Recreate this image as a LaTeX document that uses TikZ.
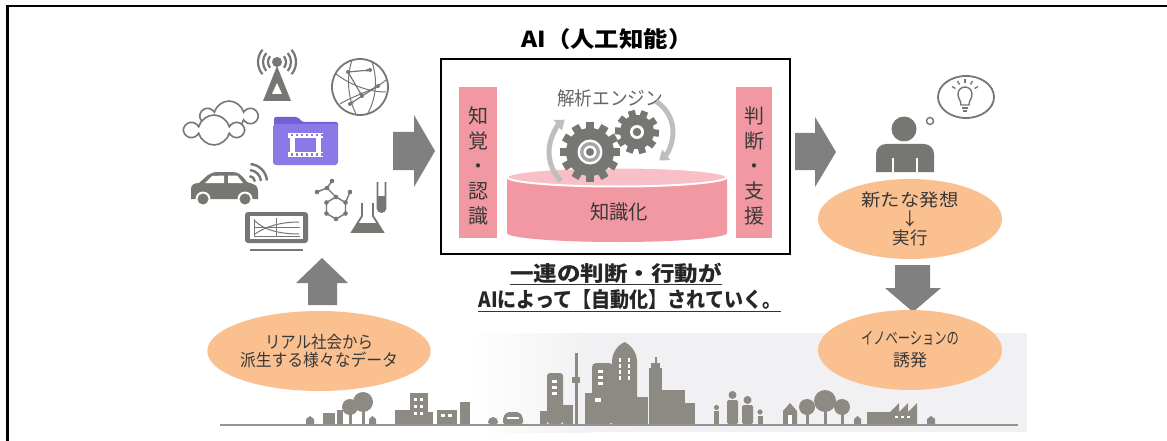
\documentclass[tikz,border=0pt]{standalone}
\usepackage{fontspec}
\usepackage{graphicx}
\setmainfont{Noto Sans CJK JP}
\usetikzlibrary{shapes.geometric,shapes.symbols,arrows.meta,calc}

\definecolor{arrowgray}{RGB}{128,128,128}
\definecolor{icongray}{RGB}{118,118,114}
\definecolor{lightarc}{RGB}{190,190,190}
\definecolor{pinkbar}{RGB}{242,152,162}
\definecolor{pinktop}{RGB}{248,192,198}
\definecolor{peach}{RGB}{250,192,144}
\definecolor{folderpurple}{RGB}{138,122,232}
\definecolor{folderdark}{RGB}{112,98,212}
\definecolor{citygray}{RGB}{140,138,130}
\definecolor{bandgray}{RGB}{241,241,243}
\definecolor{labelgray}{RGB}{56,56,56}

% set a text at its natural height, squeezed or stretched to a given width
\newsavebox\fitbox
\newcommand\fitw[2]{\sbox\fitbox{#2}\pgfmathsetmacro\fitratio{#1/\the\wd\fitbox}\scalebox{\fitratio}[1]{\usebox\fitbox}}

\tikzset{
  blockarrow/.style={fill=arrowgray},
  icon/.style={fill=icongray},
  iconline/.style={draw=icongray, line width=1.8},
  peachnode/.style={ellipse, fill=peach, inner sep=0pt, align=center, text=labelgray},
  barbox/.style={fill=pinkbar},
  bartext/.style={align=center, text=labelgray, font=\fontsize{20}{25}\selectfont},
  spinarrow/.style={draw=lightarc, line width=5, -{Triangle[length=9pt,width=13pt]}},
  cloudicon/.style={cloud, cloud puffs=6, aspect=1.9, draw=icongray, line width=1.6, fill=white},
  city/.style={fill=citygray},
  win/.style={fill=white}
}

\begin{document}
\begin{tikzpicture}[x=1pt,y=-1pt]
\useasboundingbox (0,0) rectangle (1167,441);
\fill[white] (0,0) rectangle (1167,441);

% frame
\draw[line width=2.6] (7.2,441) -- (7.2,6.2) -- (1167,6.2);

% pale band behind the skyline
\shade[left color=white, right color=bandgray] (470,333) rectangle (590,432);
\fill[bandgray] (590,333) rectangle (1027,432);

% ---------------- data sources (left) ----------------
% antenna
\fill[icon] (277,66) -- (291,101) -- (263,101) -- cycle;
\fill[white] (277,83) -- (282,94) -- (272,94) -- cycle;
\fill[icon] (277,62) circle (5);
\foreach \r in {9,14,19}{
  \draw[icongray, line width=2.2] (277,62) ++(-40:\r) arc[start angle=-40,end angle=40,radius=\r];
  \draw[icongray, line width=2.2] (277,62) ++(140:\r) arc[start angle=140,end angle=220,radius=\r];
}
% globe with network
\draw[iconline] (360,87) circle (28);
\draw[icongray, line width=1] (336,74) .. controls (352,86) and (370,92) .. (386,92);
\draw[icongray, line width=1] (340,104) .. controls (356,94) and (372,92) .. (386,80);
\draw[icongray, line width=1] (352,60) .. controls (346,78) and (348,98) .. (356,114);
\draw[icongray, line width=1] (372,62) .. controls (378,80) and (376,98) .. (368,113);
\draw[icongray, line width=1.2, -{Stealth[length=4pt]}] (348,72) -- (362,96);
\draw[icongray, line width=1.2, -{Stealth[length=4pt]}] (362,96) -- (378,86);
\draw[icongray, line width=1.2, -{Stealth[length=4pt]}] (362,96) -- (350,104);
\draw[icongray, line width=1.2, -{Stealth[length=4pt]}] (348,72) -- (370,70);
\foreach \p in {(348,72),(362,96),(370,70),(378,86),(350,104)} \fill[icongray] \p circle (2);

% clouds
\node[cloudicon, minimum width=54pt, minimum height=30pt] (cloudback) at (229,116) {};
\node[cloudicon, minimum width=56pt, minimum height=30pt] (cloudfront) at (214,130) {};

% video folder
\fill[folderdark, rounded corners=2] (274,117) -- (298,117) -- (302,122) -- (338,122) -- (338,128) -- (274,128) -- cycle;
\fill[folderpurple, rounded corners=3] (273,124) rectangle (338,165);
\fill[white] (288,133) rectangle (323,138);
\fill[white] (288,152) rectangle (323,157);
\fill[white] (290,138) rectangle (295,152);
\fill[white] (316,138) rectangle (321,152);
\foreach \x in {291,296,...,321}{
  \fill[folderpurple] (\x,134.5) rectangle (\x+2,136.5);
  \fill[folderpurple] (\x,153.5) rectangle (\x+2,155.5);
}

% car
\fill[icon] (191,199) -- (191,189) .. controls (191,185) and (194,183) .. (199,183)
  -- (208,175) .. controls (211,172.5) and (214,172) .. (220,172) -- (232,172)
  .. controls (238,172) and (241,174) .. (247,182) -- (253,184)
  .. controls (257,185.5) and (258,188) .. (258,192) -- (258,199) -- cycle;
\fill[white] (212,176) -- (205,183) -- (224,183) -- (224,175.5) -- cycle;
\fill[white] (228,175.5) -- (228,183) -- (243,183) -- (237,175.5) -- cycle;
\fill[white] (203,199) circle (7.5);
\fill[white] (245,199) circle (7.5);
\fill[icon] (203,199) circle (5.5);
\fill[icon] (245,199) circle (5.5);
% signal waves
\foreach \r in {6,12,18}
  \draw[icongray, line width=2.4] (249,182) ++(-85:\r) arc[start angle=-85,end angle=-5,radius=\r];

% monitor with chart
\fill[icon, rounded corners=3] (245,212) rectangle (308,243);
\fill[white] (250,216) rectangle (303,239);
\draw[icongray, line width=0.8] (254,219) -- (254,236) -- (300,236);
\draw[icongray, line width=0.8] (276,218) -- (276,236);
\draw[icongray, line width=0.8] (254,227) -- (300,227);
\draw[icongray, line width=1] (255,221) .. controls (264,230) and (280,234) .. (299,234);
\draw[icongray, line width=1] (255,234) .. controls (266,226) and (282,222) .. (299,222);
\draw[icongray, line width=2] (250,250) -- (303,250);

% molecule
\foreach \a in {0,60,...,300} \coordinate (h\a) at ($(336,208)+(\a+30:11)$);
\draw[iconline, line width=1.4] (h0) -- (h60) -- (h120) -- (h180) -- (h240) -- (h300) -- cycle;
\draw[iconline, line width=1.4] (h240) -- (327,188) -- (317,192);
\draw[iconline, line width=1.4] (327,188) -- (332,181);
\draw[iconline, line width=1.4] (h300) -- (350,192);
\foreach \p in {h0,h60,h120,h180,h240,h300} \fill[icongray] (\p) circle (2.3);
\foreach \p in {(317,192),(332,181),(350,192),(327,188)} \fill[icongray] \p circle (2.3);

% flask and test tube
\draw[iconline] (362,203) -- (362,216) -- (352,232) -- (383,232) -- (373,216) -- (373,203);
\fill[icon] (357.5,223) -- (377.5,223) -- (383,232) -- (352,232) -- cycle;
\draw[iconline] (377.5,182) -- (377.5,208) arc[start angle=180,end angle=0,radius=4] -- (385.5,182);
\fill[icon] (377.5,196) -- (377.5,208) arc[start angle=180,end angle=0,radius=4] -- (385.5,196) -- cycle;

% ---------------- block arrows ----------------
\fill[blockarrow] (393,132) -- (414,132) -- (414,115) -- (435,151) -- (414,187) -- (414,170) -- (393,170) -- cycle;
\fill[blockarrow] (795,133) -- (815,133) -- (815,117) -- (836,152) -- (815,187) -- (815,170) -- (795,170) -- cycle;
\fill[blockarrow] (308,305) -- (308,283) -- (296,283) -- (322,258) -- (348,283) -- (337,283) -- (337,305) -- cycle;
\fill[blockarrow] (895,265) -- (930,265) -- (930,288) -- (941,288) -- (913,312) -- (885,288) -- (895,288) -- cycle;

% ---------------- AI box ----------------
\node[font=\bfseries\fontsize{22}{26}\selectfont] (title) at (607,39) {\fitw{171}{AI（人工知能）}};
\draw[line width=2.8] (441,59) rectangle (790,254);

\fill[barbox] (459,87) rectangle (497,238);
\fill[barbox] (736,87) rectangle (772,238);
\node[bartext] (perceive) at (478,166) {知\\覚\\・\\認\\識};
\node[bartext] (judge) at (754,166) {判\\断\\・\\支\\援};

% knowledge cylinder
\fill[pinkbar] (507,177) -- (507,233) arc[start angle=180,end angle=0,x radius=110,y radius=9] -- (727,177) -- cycle;
\filldraw[fill=pinktop, draw=white, line width=2] (617,177) ellipse[x radius=110,y radius=9.5];
\node[text=labelgray, font=\fontsize{20}{22}\selectfont] (know) at (619,212) {\fitw{58}{知識化}};

% analysis engine
\node[text=black!60, font=\fontsize{19}{22}\selectfont] (engine) at (610,98) {\fitw{106}{解析エンジン}};
\draw[spinarrow] (590,152) ++(135:41) arc[start angle=135,end angle=232,radius=41];
\draw[spinarrow] (637,132) ++(-58:36) arc[start angle=-58,end angle=52,radius=36];
% large gear
\begin{scope}[shift={(590,152)}]
  \fill[icongray] (0,0) circle (24);
  \foreach \a in {0,30,...,330} \fill[icongray, rotate=\a] (-4,21) rectangle (4,30);
  \fill[white] (0,0) circle (12.5);
  \fill[black!35] (0,0) circle (10);
  \fill[white] (0,0) circle (6.5);
  \fill[icongray] (0,0) circle (4);
\end{scope}
% small gear
\begin{scope}[shift={(637,132)}]
  \fill[icongray] (0,0) circle (17);
  \foreach \a in {15,51,...,339} \fill[icongray, rotate=\a] (-3.5,14) rectangle (3.5,22);
  \fill[white] (0,0) circle (7);
  \fill[icongray] (0,0) circle (4.2);
\end{scope}

% caption under the box
\node[font=\bfseries\fontsize{21}{24}\selectfont, text=black!85] (cap1) at (616,273) {\fitw{212}{一連の判断・行動が}};
\node[font=\bfseries\fontsize{21}{24}\selectfont, text=black!85] (cap2) at (630,300) {\fitw{303}{AIによって【自動化】されていく。}};
\draw[black!80, line width=1.6] (510,284.5) -- (722,284.5);
\draw[black!80, line width=1.6] (478,311.5) -- (781,311.5);

% ---------------- person with idea ----------------
\fill[icon] (904,129) circle (12.5);
\fill[icon] (876,172) {[rounded corners=10] -- (876,144) -- (934,144)} -- (934,172) -- cycle;
\draw[white, line width=1.4] (893,158) -- (893,172);
\draw[white, line width=1.4] (917,158) -- (917,172);
\filldraw[fill=white, draw=icongray, line width=1.8] (966,97) ellipse[x radius=28,y radius=21];
\filldraw[fill=white, draw=icongray, line width=1.4] (930,121) circle (3.5);
\draw[icongray, line width=1.4] (961,105) .. controls (961,100) and (958,99) .. (958,94)
  arc[start angle=180,end angle=360,radius=7] .. controls (972,99) and (969,100) .. (969,105) -- cycle;
\draw[icongray, line width=1.4] (962,108) -- (968,108);
\draw[icongray, line width=1.4] (963,111) -- (967,111);
\foreach \a in {-150,-120,-90,-60,-30}
  \draw[icongray, line width=1.4] (965,94) ++(\a:11) -- ++(\a:4);

% ---------------- peach ellipses ----------------
\node[peachnode, minimum width=202pt, minimum height=80pt, font=\fontsize{17}{19}\selectfont] (data) at (319,351)
  {\fitw{108}{リアル社会から}\\[-1pt]\fitw{158}{派生する様々なデータ}};
\node[peachnode, minimum width=184pt, minimum height=80pt, font=\fontsize{17.5}{21}\selectfont] (idea) at (910,219)
  {\fitw{97}{新たな発想}\\[-2pt]↓\\[-2pt]実行};
\node[peachnode, minimum width=184pt, minimum height=80pt, font=\fontsize{17}{22}\selectfont] (innov) at (910,350)
  {\fitw{98}{イノベーションの}\\誘発};

% ---------------- skyline ----------------
\draw[black!42, line width=2.4] (220,425) -- (1018,425);
% left cluster
\fill[city] (306,424) -- (306,419) -- (310,416) -- (314,419) -- (314,424) -- cycle;
\fill[city] (323,413) rectangle (335,424);
\fill[city] (337,410) rectangle (343,424);
\fill[city] (350,407) circle (8);
\fill[city] (363,402) circle (10);
\fill[city] (349,407) rectangle (351.5,424);
\fill[city] (362,402) rectangle (364.5,424);
\fill[city] (369,424) -- (369,419) -- (372.5,416) -- (376,419) -- (376,424) -- cycle;
\fill[city] (395,410) rectangle (410,424);
\fill[city] (410,393) rectangle (428,424);
\fill[city] (428,412) rectangle (433,424);
\fill[city] (437,410) rectangle (457,424);
\fill[city] (460,402) rectangle (470,424);
\foreach \x in {414,420} \foreach \y in {398,405,412} \fill[win] (\x,\y) rectangle (\x+3,\y+3);
\foreach \x in {441,448} \fill[win] (\x,414) rectangle (\x+4,417);
% small cars
\fill[city, rounded corners=2] (488,424) -- (488,420) -- (491,417) -- (495,417) -- (498,420) -- (498,424) -- cycle;
\fill[city, rounded corners=2] (503,424) -- (503,417) -- (507,412) -- (519,412) -- (523,417) -- (523,424) -- cycle;
\fill[white] (507,417) rectangle (519,419);
% downtown
\fill[city] (540,411) rectangle (547,424);
\fill[city, rounded corners=3] (547,424) -- (547,373) -- (563,373) -- (563,424) -- cycle;
\fill[city] (563,405) rectangle (573,424);
\fill[city] (574.5,353) rectangle (577.5,424);
\fill[city] (572,377) rectangle (580,383);
\fill[city] (585,393) rectangle (595,424);
\fill[city, rounded corners=4] (592,424) -- (592,363) -- (613,363) -- (613,424) -- cycle;
\fill[city] (612,424) -- (612,360) .. controls (613,350) and (620,344) .. (624.5,342)
  .. controls (629,344) and (636,350) .. (637,360) -- (637,424) -- cycle;
\fill[city] (637,397) rectangle (648,424);
\fill[city] (649,368) rectangle (662,424);
\fill[city] (651,363) rectangle (660,368);
\fill[city] (655,357) rectangle (656.5,363);
\fill[city] (662,390) rectangle (685,424);
\fill[city] (685,403) rectangle (695,424);
\foreach \y in {380,386,392} \fill[win] (552,\y) rectangle (557,\y+3);
\foreach \y in {370,376,382} \fill[win] (598,\y) rectangle (603,\y+3);
\foreach \y in {358,364,370,376} {\fill[win] (619,\y) rectangle (621,\y+4); \fill[win] (628,\y) rectangle (630,\y+4);}
\fill[win] (595,398) rectangle (601,402);
% people
\fill[city] (716.5,407.5) circle (2.6);
\fill[city] (714,411) rectangle (719,424);
\fill[city] (732.5,395) circle (4);
\fill[city, rounded corners=1.5] (727,424) -- (727,400) -- (738,400) -- (738,424) -- cycle;
\fill[city] (747.5,400) circle (4);
\fill[city, rounded corners=1.5] (742,424) -- (742,405) -- (753,405) -- (753,424) -- cycle;
\fill[city] (760,412) circle (2.6);
\fill[city] (757.5,415.5) rectangle (762.5,424);
% house and trees
\fill[city] (783,424) -- (783,411) -- (790,403) -- (797,411) -- (797,424) -- cycle;
\fill[win] (788,415) rectangle (792,424);
\fill[city] (807,407) circle (8);
\fill[city] (825,401) circle (11);
\fill[city] (842,407) circle (8);
\foreach \x in {806,824,841} \fill[city] (\x,405) rectangle (\x+2.5,424);
\fill[city] (854,424) -- (854,419) -- (857.5,416) -- (861,419) -- (861,424) -- cycle;
% factory
\fill[city] (867,412) rectangle (892,424);
\fill[city] (890,424) -- (890,412) -- (899,403) -- (899,412) -- (908,403) -- (908,412) -- (917,403) -- (917,424) -- cycle;
\foreach \x in {895,901,907} \fill[win] (\x,416) rectangle (\x+3,418);
\fill[city] (927,424) -- (927,419) -- (931,416) -- (935,419) -- (935,424) -- cycle;
\end{tikzpicture}
\end{document}
